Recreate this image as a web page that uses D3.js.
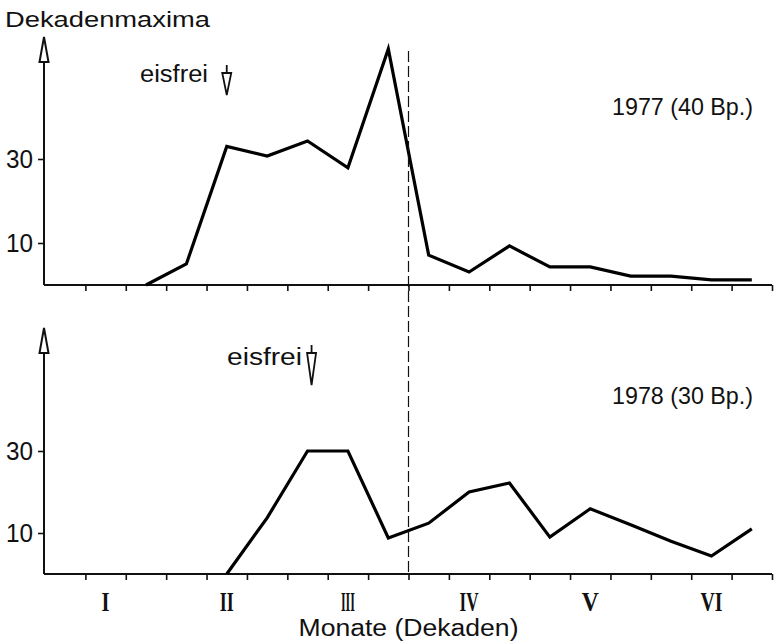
<!DOCTYPE html>
<html lang="de">
<head>
<meta charset="UTF-8">
<title>Dekadenmaxima 1977 / 1978</title>
<script src="https://d3js.org/d3.v7.min.js"></script>
<style>
  body { margin: 0; background: #fff; font-family: "Liberation Sans", Arial, sans-serif; }
  text { fill: #111; }
  .tick line, .baseline { stroke: #111; }
</style>
</head>
<body>
<div id="chart"></div>
<script>
// 18 decades = January..June, three per month
const months = ["I", "II", "III", "IV", "V", "VI"];
const monthWidths = [8, 14, 14, 19, 17, 22];
const yTicks = [10, 30];

// decade maxima; first value belongs to decade index "start"
const start1977 = 2;
const max1977 = [0, 5, 33, 30.7, 34.3, 27.9, 56.2, 7.1, 3.1, 9.3, 4.3, 4.3, 2.1, 2.1, 1.2, 1.2];
const start1978 = 4;
const max1978 = [0, 13.7, 30, 30, 8.8, 12.4, 20, 22.2, 9, 15.9, 12, 8, 4.4, 11];

// decade position of the "eisfrei" marker and of the dashed line
const ice1977 = 4.5;
const ice1978 = 6.6;
const dashAt = 9;

const W = 780, H = 644;
const svg = d3.select("#chart").append("svg")
    .attr("width", W)
    .attr("height", H);

const x = d3.scaleLinear().domain([0, 18]).range([45, 772]);

const panels = [
    { label: "1977 (40 Bp.)", start: start1977, values: max1977, ice: ice1977,
      arrowTip: 37, zero: 285, y30: 159, labelY: 115,
      iceY: 82, iceX: 140, iceW: 68, iceTop: 65, iceLen: 30 },
    { label: "1978 (30 Bp.)", start: start1978, values: max1978, ice: ice1978,
      arrowTip: 328, zero: 574, y30: 451, labelY: 404,
      iceY: 365, iceX: 227, iceW: 75, iceTop: 345, iceLen: 40 }
];

panels.forEach(p => {
    const y = d3.scaleLinear().domain([0, 30]).range([p.zero, p.y30]);
    const g = svg.append("g");

    // x axis with decade ticks
    const xAxis = g.append("g")
        .attr("transform", `translate(0,${p.zero})`)
        .call(d3.axisBottom(x).tickValues(d3.range(1, 19)).tickFormat("").tickSizeInner(6).tickSizeOuter(0));
    xAxis.select(".domain").attr("stroke", "#111").attr("stroke-width", 2)
        .attr("d", `M${x(0) - 1},0H${x(18)}`);
    xAxis.selectAll(".tick line").attr("stroke-width", 1.6);

    // y axis: ticks only, the line is drawn with its arrow
    const yAxis = g.append("g")
        .attr("transform", `translate(${x(0) - 1},0)`)
        .call(d3.axisLeft(y).tickValues(yTicks).tickSize(6).tickPadding(5));
    yAxis.select(".domain").remove();
    yAxis.selectAll(".tick line").attr("stroke-width", 1.6);
    yAxis.selectAll(".tick text")
        .attr("font-family", "'Liberation Sans', Arial, sans-serif")
        .attr("font-size", 25)
        .attr("textLength", 27)
        .attr("lengthAdjust", "spacingAndGlyphs");

    const ax = x(0) - 1;
    g.append("line")
        .attr("x1", ax).attr("x2", ax)
        .attr("y1", p.arrowTip + 24).attr("y2", p.zero)
        .attr("stroke", "#111").attr("stroke-width", 2);
    g.append("path")
        .attr("d", `M${ax},${p.arrowTip}L${ax + 4.5},${p.arrowTip + 25}L${ax - 4.5},${p.arrowTip + 25}Z`)
        .attr("fill", "#fff").attr("stroke", "#111").attr("stroke-width", 2);

    // data line, points at decade centres
    const line = d3.line()
        .x((d, i) => x(p.start + i + 0.5))
        .y(d => y(d));
    g.append("path")
        .datum(p.values)
        .attr("d", line)
        .attr("fill", "none")
        .attr("stroke", "#000")
        .attr("stroke-width", 3.2)
        .attr("stroke-linejoin", "miter");

    // year label
    g.append("text")
        .attr("x", 612).attr("y", p.labelY)
        .attr("font-size", 24)
        .attr("textLength", 141)
        .attr("lengthAdjust", "spacingAndGlyphs")
        .text(p.label);

    // ice-free marker
    const ix = x(p.ice);
    g.append("text")
        .attr("x", p.iceX).attr("y", p.iceY)
        .attr("font-size", 23)
        .attr("textLength", p.iceW)
        .attr("lengthAdjust", "spacingAndGlyphs")
        .text("eisfrei");
    g.append("line")
        .attr("x1", ix).attr("x2", ix)
        .attr("y1", p.iceTop).attr("y2", p.iceTop + 9)
        .attr("stroke", "#111").attr("stroke-width", 1.8);
    g.append("path")
        .attr("d", `M${ix - 4.5},${p.iceTop + 8}L${ix + 4.5},${p.iceTop + 8}L${ix},${p.iceTop + p.iceLen}Z`)
        .attr("fill", "#fff").attr("stroke", "#111").attr("stroke-width", 1.8);
});

// dashed divider through both panels
svg.append("line")
    .attr("x1", x(dashAt)).attr("x2", x(dashAt))
    .attr("y1", 51).attr("y2", 572)
    .attr("stroke", "#111").attr("stroke-width", 1.2)
    .attr("stroke-dasharray", "11,4");

// axis titles
svg.append("text")
    .attr("x", 5).attr("y", 27)
    .attr("font-size", 22)
    .attr("textLength", 205)
    .attr("lengthAdjust", "spacingAndGlyphs")
    .text("Dekadenmaxima");

svg.append("text")
    .attr("x", x(9)).attr("y", 636)
    .attr("text-anchor", "middle")
    .attr("font-size", 23)
    .attr("textLength", 220)
    .attr("lengthAdjust", "spacingAndGlyphs")
    .text("Monate (Dekaden)");

// month numerals under the lower axis
svg.append("g").selectAll("text")
    .data(months)
    .join("text")
    .attr("x", (d, i) => x(3 * i + 1.5) - monthWidths[i] / 2)
    .attr("y", 611)
    .attr("font-family", "'Liberation Serif', serif")
    .attr("font-weight", "bold")
    .attr("font-size", 27)
    .attr("textLength", (d, i) => monthWidths[i])
    .attr("lengthAdjust", "spacingAndGlyphs")
    .text(d => d);
</script>
</body>
</html>
